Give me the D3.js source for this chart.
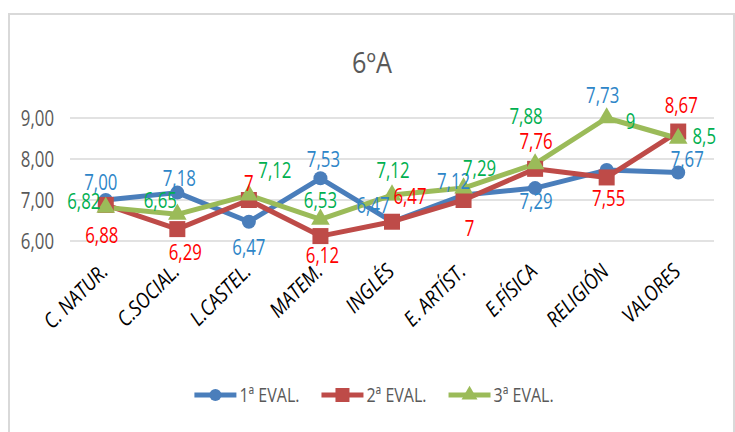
<!DOCTYPE html>
<html>
<head>
<meta charset="utf-8">
<script src="https://cdn.jsdelivr.net/npm/d3@7"></script>
<style>
  body { margin: 0; background: #fff; }
  svg text { font-family: "Open Sans", "DejaVu Sans Condensed", sans-serif; }
</style>
</head>
<body>
<script>
// data
var categories = ["C. NATUR.", "C.SOCIAL.", "L.CASTEL.", "MATEM.", "INGLÉS", "E. ARTÍST.", "E.FÍSICA", "RELIGIÓN", "VALORES"];
var eval1 = [7.00, 7.18, 6.47, 7.53, 6.47, 7.12, 7.29, 7.73, 7.67];
var eval2 = [6.88, 6.29, 7, 6.12, 6.47, 7, 7.76, 7.55, 8.67];
var eval3 = [6.82, 6.65, 7.12, 6.53, 7.12, 7.29, 7.88, 9, 8.5];
var seriesNames = ["1ª EVAL.", "2ª EVAL.", "3ª EVAL."];
var yTicks = [6, 7, 8, 9];

// label texts as shown in the chart
var labels1 = ["7,00", "7,18", "6,47", "7,53", "6,47", "7,12", "7,29", "7,73", "7,67"];
var labels2 = ["6,88", "6,29", "7", "6,12", "6,47", "7", "7,76", "7,55", "8,67"];
var labels3 = ["6,82", "6,65", "7,12", "6,53", "7,12", "7,29", "7,88", "9", "8,5"];

// label offsets (dx, dy) from the point, hand placed like in the original
var off1 = [[-5,-18],[2,-14],[0,26],[3,-19],[-19,-16],[-10,-14],[1,13],[-4,-75],[9,-13]];
var off2 = [[-4,31],[8,23],[0,-17],[2,19],[18,-25],[6,28],[1,-27],[2,21],[3,-26]];
var off3 = [[-22,-6],[-17,-14],[26,-25],[0,-19],[1,-25],[16,-20],[-9,-47],[24,3],[26,-2]];

var W = 735, H = 432;
var SQ = 0.8; // text is narrow in the original (calibri squeezed)

function squeeze(sel, k) {
  sel.each(function() {
    var len = this.getComputedTextLength();
    d3.select(this)
      .attr("textLength", len * k)
      .attr("lengthAdjust", "spacingAndGlyphs");
  });
}

var svg = d3.select("body").append("svg")
    .attr("width", W)
    .attr("height", H);

// chart border
svg.append("rect")
    .attr("x", 9).attr("y", 14)
    .attr("width", 725).attr("height", 430)
    .attr("fill", "#fff")
    .attr("stroke", "#d9d9d9")
    .attr("stroke-width", 2);

var x = d3.scalePoint()
    .domain(categories)
    .range([70, 714])
    .padding(0.5);
var y = d3.scaleLinear()
    .domain([6, 9])
    .range([241, 118]);

// title
svg.append("text")
    .attr("x", 372).attr("y", 73)
    .attr("text-anchor", "middle")
    .attr("fill", "#595959")
    .style("font-size", "29px")
    .text("6ºA")
    .call(squeeze, 0.87);

// grid
svg.append("g").selectAll("line")
    .data(yTicks)
    .enter().append("line")
    .attr("x1", 70).attr("x2", 714)
    .attr("y1", function(d){ return y(d); })
    .attr("y2", function(d){ return y(d); })
    .attr("stroke", "#d9d9d9")
    .attr("stroke-width", 1.5);

// y axis labels
var yAxis = d3.axisLeft(y)
    .tickValues(yTicks)
    .tickSize(0)
    .tickPadding(0)
    .tickFormat(function(d){ return d3.format(".2f")(d).replace(".", ","); });
var gy = svg.append("g")
    .attr("transform", "translate(54,0)")
    .call(yAxis);
gy.select(".domain").remove();
gy.selectAll("text")
    .attr("fill", "#595959")
    .attr("dy", "0.36em")
    .style("font-size", "21px")
    .call(squeeze, SQ);

// x axis labels
var xAxis = d3.axisBottom(x).tickSize(0).tickPadding(0);
var gx = svg.append("g")
    .attr("transform", "translate(0,273)")
    .call(xAxis);
gx.select(".domain").remove();
gx.selectAll("text")
    .attr("fill", "#000")
    .attr("text-anchor", "end")
    .attr("dy", 0)
    .attr("y", 0)
    .attr("transform", "translate(3,0) rotate(-45)")
    .style("font-size", "21px")
    .style("font-style", "italic")
    .call(squeeze, 0.88);

var series = [
  {name: seriesNames[0], values: eval1, labels: labels1, off: off1, color: "#4a7ebb", labelColor: "#2e86c8", marker: "circle"},
  {name: seriesNames[1], values: eval2, labels: labels2, off: off2, color: "#be4b48", labelColor: "#ff0000", marker: "square"},
  {name: seriesNames[2], values: eval3, labels: labels3, off: off3, color: "#9bbb59", labelColor: "#00b050", marker: "triangle"}
];

var line = d3.line()
    .x(function(d, i){ return x(categories[i]); })
    .y(function(d){ return y(d); });

function marker(g, type, color) {
  if (type == "circle") {
    g.append("circle").attr("r", 7).attr("fill", color);
  } else if (type == "square") {
    g.append("rect").attr("x", -8).attr("y", -8).attr("width", 16).attr("height", 16).attr("fill", color);
  } else {
    g.append("path").attr("d", d3.symbol().type(d3.symbolTriangle).size(150)).attr("fill", color);
  }
}

series.forEach(function(s) {
  svg.append("path")
      .datum(s.values)
      .attr("d", line)
      .attr("fill", "none")
      .attr("stroke", s.color)
      .attr("stroke-width", 5)
      .attr("stroke-linejoin", "round");
});

series.forEach(function(s) {
  s.values.forEach(function(v, i) {
    var g = svg.append("g")
        .attr("transform", "translate(" + x(categories[i]) + "," + y(v) + ")");
    marker(g, s.marker, s.color);
  });
});

series.forEach(function(s) {
  svg.append("g").selectAll("text")
      .data(s.values)
      .enter().append("text")
      .attr("x", function(d, i){ return x(categories[i]) + s.off[i][0]; })
      .attr("y", function(d, i){ return y(d) + s.off[i][1]; })
      .attr("dy", "0.36em")
      .attr("text-anchor", "middle")
      .attr("fill", s.labelColor)
      .style("font-size", "21px")
      .text(function(d, i){ return s.labels[i]; })
      .call(squeeze, SQ);
});

// legend
var legend = svg.append("g");
var lx = 0;
series.forEach(function(s) {
  var item = legend.append("g").attr("transform", "translate(" + lx + ",0)");
  item.append("line")
      .attr("x1", 0).attr("x2", 42)
      .attr("stroke", s.color)
      .attr("stroke-width", 5);
  var m = item.append("g").attr("transform", "translate(21,0)");
  if (s.marker == "circle") m.append("circle").attr("r", 6).attr("fill", s.color);
  else if (s.marker == "square") m.append("rect").attr("x", -7).attr("y", -7).attr("width", 14).attr("height", 14).attr("fill", s.color);
  else m.append("path").attr("d", d3.symbol().type(d3.symbolTriangle).size(110)).attr("fill", s.color);
  var t = item.append("text")
      .attr("x", 45)
      .attr("dy", "0.36em")
      .attr("fill", "#595959")
      .style("font-size", "20px")
      .text(s.name)
      .call(squeeze, SQ);
  lx += 45 + t.node().getComputedTextLength() + 22;
});
legend.attr("transform", "translate(" + (374 - (lx - 22) / 2) + ",395)");
</script>
</body>
</html>
